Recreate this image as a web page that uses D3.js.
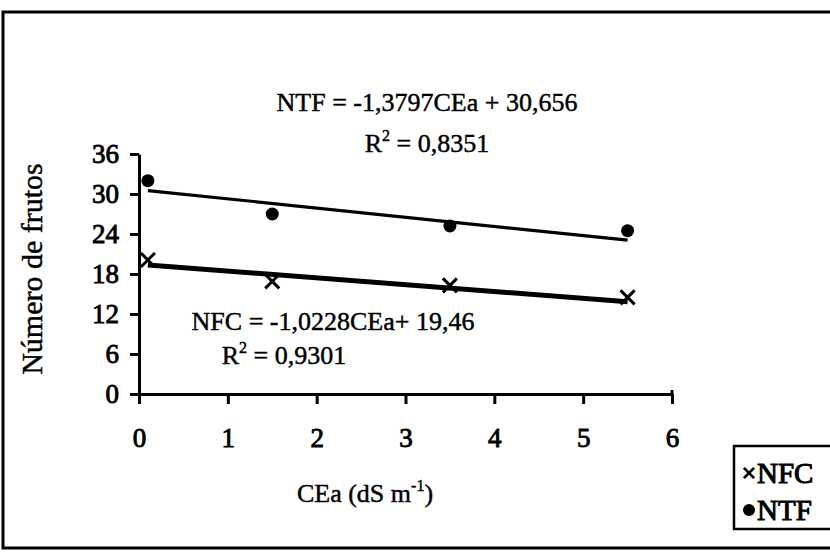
<!DOCTYPE html>
<html>
<head>
<meta charset="utf-8">
<script src="https://cdn.jsdelivr.net/npm/d3@7"></script>
<style>
  html, body { margin: 0; padding: 0; background: #fff; }
  svg text { font-family: "Liberation Serif", "Times New Roman", serif; fill: #000; stroke: #000; stroke-width: 0.45px; }
</style>
</head>
<body>
<svg id="chart" width="830" height="556"></svg>
<script>
// ---- data ----
const xValues = [0.1, 1.5, 3.5, 5.5];
const ntfValues = [32, 27, 25.2, 24.5];
const nfcValues = [20.1, 16.9, 16.3, 14.5];
const xTicks = [0, 1, 2, 3, 4, 5, 6];
const yTicks = [0, 6, 12, 18, 24, 30, 36];
const ntfFit = { slope: -1.3797, intercept: 30.656, r2: "0,8351", label: "NTF = -1,3797CEa + 30,656" };
const nfcFit = { slope: -1.0228, intercept: 19.46, r2: "0,9301", label: "NFC = -1,0228CEa+ 19,46" };
const legendItems = ["NFC", "NTF"];

const svg = d3.select("#chart");

// outer frame
svg.append("rect")
  .attr("x", 3).attr("y", 12).attr("width", 840).attr("height", 536)
  .attr("fill", "none").attr("stroke", "#000").attr("stroke-width", 3);

const x = d3.scaleLinear().domain([0, 6]).range([139, 672]);
const y = d3.scaleLinear().domain([0, 36]).range([394, 154]);

const g = svg.append("g");

// axes
const xAxis = d3.axisBottom(x).tickValues(xTicks).tickFormat(d3.format("d")).tickSize(10).tickSizeOuter(0);
const yAxis = d3.axisLeft(y).tickValues(yTicks).tickFormat(d3.format("d")).tickSize(9).tickSizeOuter(0);

const gx = g.append("g").attr("transform", `translate(0,${y(0)})`).call(xAxis);
const gy = g.append("g").attr("transform", `translate(${x(0)},0)`).call(yAxis);

[gx, gy].forEach(a => {
  a.attr("font-family", null).attr("font-size", null);
  a.select(".domain").attr("stroke", "#000").attr("stroke-width", 3);
  a.selectAll(".tick line").attr("stroke", "#000").attr("stroke-width", 3);
  a.selectAll(".tick text")
    .style("font-size", "27px")
    .style("stroke-width", "0.9px")
    .attr("fill", "#000");
});
gx.selectAll(".tick text").attr("dy", "0").attr("y", 53);
gy.selectAll(".tick text").attr("x", -20).attr("dy", "0.33em");
gx.append("line").attr("x1", x(6)).attr("x2", x(6)).attr("y1", -4).attr("y2", 0).attr("stroke", "#000").attr("stroke-width", 3);

// trend lines
const fitLine = (fit) => [
  [xValues[0], fit.intercept + fit.slope * xValues[0]],
  [xValues[xValues.length - 1], fit.intercept + fit.slope * xValues[xValues.length - 1]]
];
const line = d3.line().x(d => x(d[0])).y(d => y(d[1]));

g.append("path").attr("d", line(fitLine(ntfFit)))
  .attr("fill", "none").attr("stroke", "#000").attr("stroke-width", 3.2);
g.append("path").attr("d", line(fitLine(nfcFit)))
  .attr("fill", "none").attr("stroke", "#000").attr("stroke-width", 5);

// NTF points (dots)
g.selectAll(".ntf").data(xValues.map((v, i) => [v, ntfValues[i]])).enter()
  .append("circle")
  .attr("cx", d => x(d[0])).attr("cy", d => y(d[1])).attr("r", 6.5).attr("fill", "#000");

// NFC points (x markers)
const cross = d3.symbol().type(d3.symbolX).size(130);
g.selectAll(".nfc").data(xValues.map((v, i) => [v, nfcValues[i]])).enter()
  .append("path")
  .attr("d", cross)
  .attr("transform", d => `translate(${x(d[0])},${y(d[1])})`)
  .attr("fill", "none").attr("stroke", "#000").attr("stroke-width", 3);

// equations
const eq = (txt, cx, cy) => svg.append("text").attr("x", cx).attr("y", cy)
  .attr("text-anchor", "middle").style("font-size", "26px").text(txt);

eq(ntfFit.label, 427, 111);
const r1 = svg.append("text").attr("x", 427).attr("y", 152).attr("text-anchor", "middle").style("font-size", "26px");
r1.append("tspan").text("R");
r1.append("tspan").attr("dy", -11).style("font-size", "16px").text("2");
r1.append("tspan").attr("dy", 11).text(" = " + ntfFit.r2);

eq(nfcFit.label, 333, 330);
const r2 = svg.append("text").attr("x", 284).attr("y", 364).attr("text-anchor", "middle").style("font-size", "26px");
r2.append("tspan").text("R");
r2.append("tspan").attr("dy", -11).style("font-size", "16px").text("2");
r2.append("tspan").attr("dy", 11).text(" = " + nfcFit.r2);

// axis titles
const xt = svg.append("text").attr("x", 365).attr("y", 502).attr("text-anchor", "middle").style("font-size", "26px");
xt.append("tspan").text("CEa (dS m");
xt.append("tspan").attr("dy", -11).style("font-size", "16px").text("-1");
xt.append("tspan").attr("dy", 11).text(")");

svg.append("text").attr("transform", "translate(42,269) rotate(-90)")
  .attr("text-anchor", "middle").style("font-size", "30px").text("Número de frutos");

// legend
svg.append("rect").attr("x", 734).attr("y", 446).attr("width", 120).attr("height", 83)
  .attr("fill", "#fff").attr("stroke", "#000").attr("stroke-width", 2.5);
const lg = svg.append("g");
lg.append("path").attr("d", d3.symbol().type(d3.symbolX).size(70)())
  .attr("transform", "translate(749,473)").attr("fill", "none").attr("stroke", "#000").attr("stroke-width", 2.8);
lg.append("circle").attr("cx", 749).attr("cy", 510).attr("r", 6).attr("fill", "#000");
lg.selectAll(".lt").data(legendItems).enter().append("text")
  .attr("x", 757).attr("y", (d, i) => 483 + i * 37)
  .style("font-size", "29px").style("stroke-width", "1px").text(d => d);
</script>
</body>
</html>
